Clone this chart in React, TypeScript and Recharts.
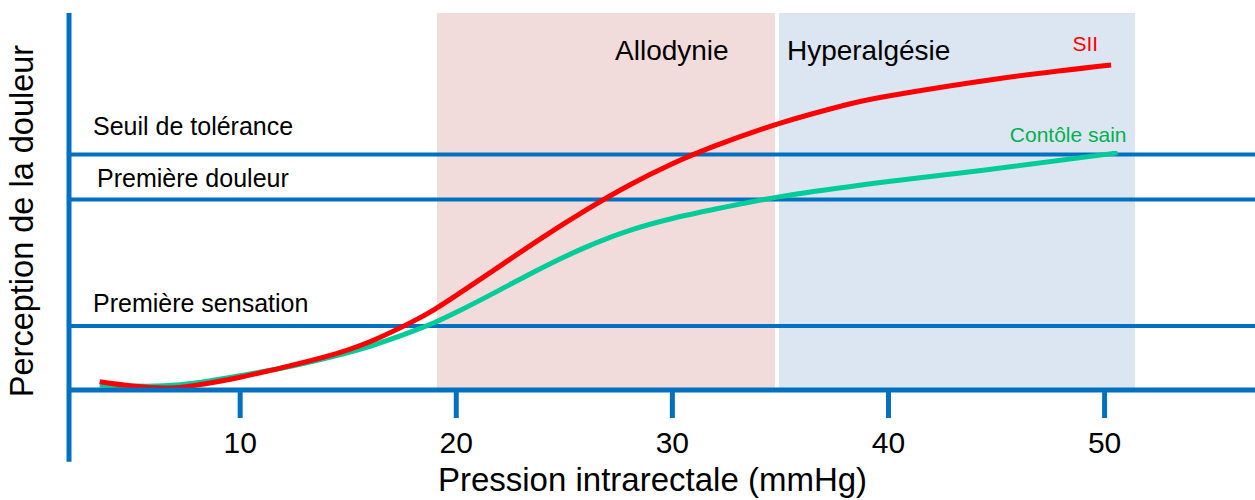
import {
  ComposedChart,
  Line,
  XAxis,
  YAxis,
  ReferenceLine,
  ReferenceArea,
} from "recharts";

const FONT = "Arial, 'Liberation Sans', sans-serif";
const BLUE = "#0070C0";
const RED = "#FF0000";
const GREEN_LINE = "#00CC99";
const GREEN_TEXT = "#00B050";

// pression (mmHg) / perception
const PRESSURE_SII = [3.5, 5, 6.5, 8, 10, 12, 14, 16, 18, 19, 20, 22, 24, 26, 28, 30, 32, 35, 38, 40, 45, 50.3];
const PERCEPTION_SII = [2.2, 1.06, 0.53, 1.3, 3.4, 6.0, 8.9, 12.8, 18.2, 21.4, 25.1, 32.8, 40.5, 47.7, 54.3, 60.0, 64.8, 70.8, 75.6, 78.0, 82.5, 86.2];

const PRESSURE_CTRL = [3.5, 5, 6.5, 8, 10, 12, 14, 16, 18, 19, 20, 22, 24, 26, 28, 30, 32, 35, 38, 40, 45, 50.6];
const PERCEPTION_CTRL = [1.3, 1.06, 1.1, 1.9, 3.8, 5.9, 8.5, 11.6, 15.6, 17.9, 20.6, 26.5, 32.5, 37.9, 42.3, 45.5, 48.0, 51.3, 53.8, 55.3, 58.75, 62.9];

const X_TICKS = [10, 20, 30, 40, 50];
const X_DOMAIN: [number, number] = [2.08, 56.96];
const Y_DOMAIN: [number, number] = [0, 100];
const Y_AXIS_BOTTOM = -19;

const THRESHOLD_NAMES = ["Seuil de tolérance", "Première douleur", "Première sensation"];
const THRESHOLD_VALUES = [62.5, 50.5, 17];

const ZONE_NAMES = ["Allodynie", "Hyperalgésie"];
const ZONE_START = [19.11, 34.93];
const ZONE_END = [34.75, 51.41];

const thresholdLabelPos = [
  { dx: 24, dy: -19 },
  { dx: 28, dy: -12.6 },
  { dx: 24, dy: -14 },
];
const zoneStyle = [
  { fill: "#F2DCDB", dx: 178, dy: 47 },
  { fill: "#DCE6F2", dx: 8, dy: 47 },
];

const sii = PRESSURE_SII.map((p, i) => ({ p, v: PERCEPTION_SII[i] }));
const ctrl = PRESSURE_CTRL.map((p, i) => ({ p, v: PERCEPTION_CTRL[i] }));

const App = () => {
  return (
    <div style={{ position: "absolute", left: 0, top: 0, background: "#fff" }}>
      <ComposedChart
        width={1255}
        height={500}
        margin={{ top: 13, right: 0, bottom: 0, left: 0 }}
        style={{ fontFamily: FONT }}
      >
        <XAxis
          dataKey="p"
          type="number"
          domain={X_DOMAIN}
          allowDataOverflow
          ticks={X_TICKS}
          interval={0}
          height={110}
          axisLine={{ stroke: BLUE, strokeWidth: 5 }}
          tickLine={{ stroke: BLUE, strokeWidth: 5 }}
          tickSize={28}
          tickMargin={14}
          tick={{ fill: "#000", fontSize: 30, fontFamily: FONT }}
          label={({ viewBox }: any) => (
            <text
              x={viewBox.x + viewBox.width / 2 - 9.5}
              y={viewBox.y + 101}
              textAnchor="middle"
              fontSize={33}
              fontFamily={FONT}
              fill="#000"
            >
              Pression intrarectale (mmHg)
            </text>
          )}
        />
        <YAxis
          type="number"
          domain={Y_DOMAIN}
          allowDataOverflow
          width={69}
          tick={false}
          tickLine={false}
          axisLine={false}
          label={({ viewBox }: any) => {
            const cx = viewBox.x + 33;
            const cy = viewBox.y + viewBox.height / 2 + 19.5;
            return (
              <text
                x={cx}
                y={cy}
                transform={`rotate(-90, ${cx}, ${cy})`}
                textAnchor="middle"
                fontSize={32.5}
                fontFamily={FONT}
                fill="#000"
              >
                Perception de la douleur
              </text>
            );
          }}
        />

        {ZONE_NAMES.map((name, i) => (
          <ReferenceArea
            key={name}
            x1={ZONE_START[i]}
            x2={ZONE_END[i]}
            y1={Y_DOMAIN[0]}
            y2={Y_DOMAIN[1]}
            fill={zoneStyle[i].fill}
            fillOpacity={1}
            stroke="none"
            label={({ viewBox }: any) => (
              <text
                x={viewBox.x + zoneStyle[i].dx}
                y={viewBox.y + zoneStyle[i].dy}
                fontSize={28}
                fontFamily={FONT}
                fill="#000"
              >
                {name}
              </text>
            )}
          />
        ))}

        {THRESHOLD_NAMES.map((name, i) => (
          <ReferenceLine
            key={name}
            y={THRESHOLD_VALUES[i]}
            stroke={BLUE}
            strokeWidth={4}
            label={({ viewBox }: any) => (
              <text
                x={viewBox.x + thresholdLabelPos[i].dx}
                y={viewBox.y + thresholdLabelPos[i].dy}
                fontSize={25}
                fontFamily={FONT}
                fill="#000"
              >
                {name}
              </text>
            )}
          />
        ))}

        <ReferenceLine
          segment={[
            { x: X_DOMAIN[0], y: Y_AXIS_BOTTOM },
            { x: X_DOMAIN[0], y: Y_DOMAIN[1] },
          ]}
          stroke={BLUE}
          strokeWidth={5}
          ifOverflow="visible"
        />

        <Line
          data={ctrl}
          dataKey="v"
          type="natural"
          stroke={GREEN_LINE}
          strokeWidth={5}
          dot={false}
          isAnimationActive={false}
          label={(props: any) =>
            props.index === ctrl.length - 1 ? (
              <text
                key="ctrl-label"
                x={props.x + 9}
                y={props.y - 11}
                textAnchor="end"
                fontSize={21}
                fontFamily={FONT}
                fill={GREEN_TEXT}
              >
                Contôle sain
              </text>
            ) : null
          }
        />
        <Line
          data={sii}
          dataKey="v"
          type="natural"
          stroke={RED}
          strokeWidth={5}
          dot={false}
          isAnimationActive={false}
          label={(props: any) =>
            props.index === sii.length - 1 ? (
              <text
                key="sii-label"
                x={props.x - 13}
                y={props.y - 14}
                textAnchor="end"
                fontSize={21}
                fontFamily={FONT}
                fill={RED}
              >
                SII
              </text>
            ) : null
          }
        />
      </ComposedChart>
    </div>
  );
};

export default App;
